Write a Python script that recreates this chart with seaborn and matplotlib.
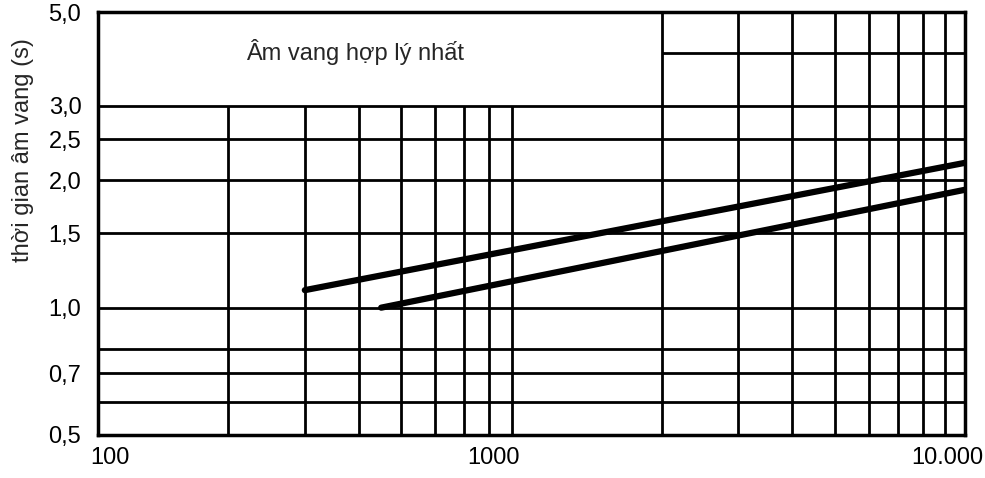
import numpy as np
import pandas as pd
import matplotlib
matplotlib.use("Agg")
import matplotlib.pyplot as plt
import matplotlib.transforms as mtransforms
import seaborn as sns

# ------------------------------ data ------------------------------
# two straight lines on the log-log grid
upper_x = [300, 10000]
upper_y = [1.1, 2.2]
lower_x = [450, 10000]
lower_y = [1.0, 1.9]

# grid lines
vgrid_low = [200, 300, 400, 500, 600, 700, 800, 900]           # stop at 3,0
vgrid_high = [2000, 3000, 4000, 5000, 6000, 7000, 8000, 9000]  # go up to 5,0
hgrid_full = [0.6, 0.7, 0.8, 1.0, 1.5, 2.0, 2.5, 3.0]
hgrid_right = [4.0]                                            # only right of 2000

yticks = [0.5, 0.7, 1.0, 1.5, 2.0, 2.5, 3.0, 5.0]
ytick_labels = ["0,5", "0,7", "1,0", "1,5", "2,0", "2,5", "3,0", "5,0"]
xticks = [100, 1000, 10000]
xtick_labels = ["100", "1000", "10.000"]

box_text = "Âm vang hợp lý nhất"
ylabel = "thời gian âm vang (s)"

df = pd.concat([
    pd.DataFrame({"x": upper_x, "y": upper_y, "line": "upper"}),
    pd.DataFrame({"x": lower_x, "y": lower_y, "line": "lower"}),
])

# ------------------------------------- plot -------------------------------------------
sns.set_style("white")
plt.rcParams["font.family"] = ["Liberation Sans", "DejaVu Sans"]

fig = plt.figure(figsize=(9.85, 4.78), dpi=100)
ax = fig.add_axes([98 / 985, 43 / 478, 867 / 985, 423 / 478])
ax.set_xscale("log")
ax.set_yscale("log")
ax.set_xlim(100, 10000)
ax.set_ylim(0.5, 5.0)

grid_kw = dict(color="black", linewidth=2.0, zorder=1)
ax.vlines(vgrid_low, 0.5, 3.0, **grid_kw)
ax.vlines(vgrid_high, 0.5, 5.0, **grid_kw)
ax.hlines(hgrid_full, 100, 10000, **grid_kw)
ax.hlines(hgrid_right, 2000, 10000, **grid_kw)

sns.lineplot(data=df, x="x", y="y", units="line", estimator=None, color="black",
             linewidth=4.5, legend=False, ax=ax, zorder=3)

ax.text(0.2965, 0.905, box_text, transform=ax.transAxes, ha="center", va="center",
        fontsize=17)

for s in ax.spines.values():
    s.set_visible(True)
    s.set_color("black")
    s.set_linewidth(2.5)

ax.set_yticks(yticks)
ax.set_yticklabels(ytick_labels)
ax.yaxis.set_minor_locator(matplotlib.ticker.NullLocator())
ax.set_xticks(xticks)
ax.set_xticklabels(xtick_labels)
ax.xaxis.set_minor_locator(matplotlib.ticker.NullLocator())
ax.tick_params(axis="both", length=0, labelsize=17, colors="black")
ax.tick_params(axis="y", pad=12)
ax.tick_params(axis="x", pad=9)

# nudge the x labels like in the drawing
shifts = [12, -38, -18]
for lab, dx in zip(ax.get_xticklabels(), shifts):
    lab.set_transform(lab.get_transform() +
                      mtransforms.ScaledTranslation(dx / 100, 0, fig.dpi_scale_trans))

ax.set_xlabel("")
ax.set_ylabel(ylabel, fontsize=17)
ax.yaxis.set_label_coords(-0.074, 0.674)

fig.savefig("out.png", dpi=100, facecolor="white")
